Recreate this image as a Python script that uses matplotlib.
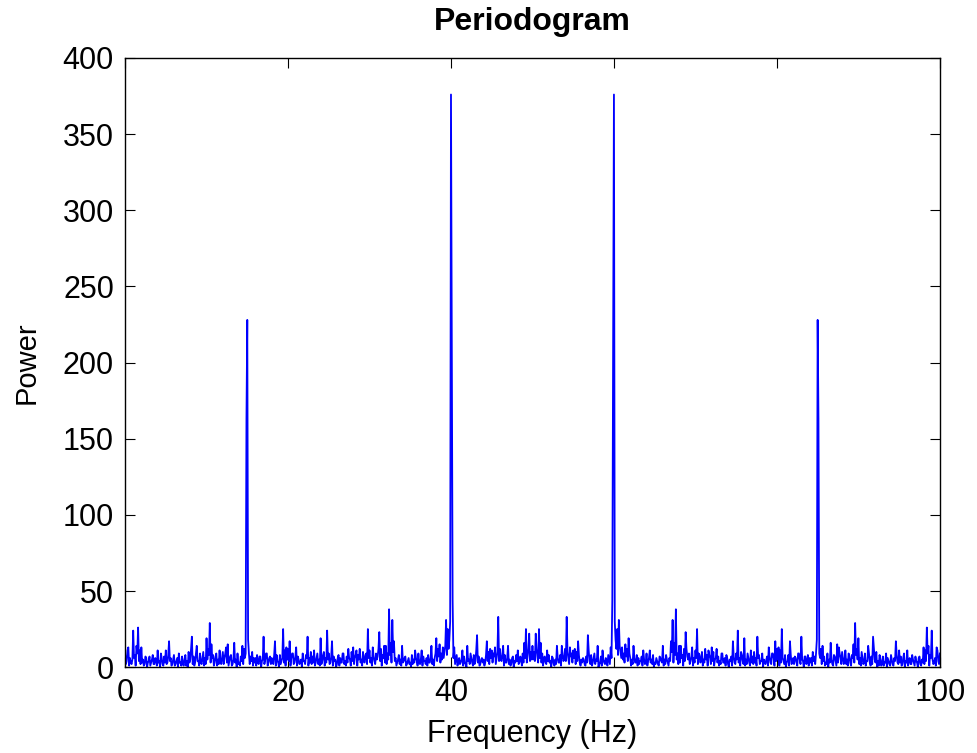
import numpy as np
import matplotlib
matplotlib.use("Agg")
import matplotlib.pyplot as plt

plt.rcParams['font.family'] = ['Liberation Sans', 'DejaVu Sans']

# one-sided spectrum 0..50 Hz, 0.1 Hz bins;
# the plotted 0..100 Hz periodogram is mirror-symmetric about 50 Hz
half_power = [
    9, 2, 4, 11, 13, 1, 6, 3, 2, 5,          # 0
    24, 6, 8, 1, 14, 9, 26, 4, 11, 2,        # 1
    13, 3, 5, 1, 2, 7, 6, 0, 3, 4,           # 2
    7, 1, 3, 5, 8, 2, 2, 6, 5, 1,            # 3
    11, 3, 4, 0, 9, 6, 2, 1, 7, 3,           # 4
    11, 2, 3, 8, 17, 4, 6, 1, 2, 5,          # 5
    8, 1, 2, 4, 6, 0, 9, 3, 3, 1,            # 6
    7, 2, 1, 5, 8, 1, 4, 0, 10, 3,           # 7
    5, 12, 20, 2, 7, 1, 3, 9, 14, 4,         # 8
    4, 1, 9, 3, 2, 6, 10, 1, 6, 2,           # 9
    19, 5, 12, 8, 29, 3, 15, 6, 8, 1,        # 10
    3, 7, 9, 1, 5, 2, 11, 4, 2, 6,           # 11
    10, 2, 6, 9, 13, 3, 15, 1, 4, 7,         # 12
    8, 1, 2, 5, 16, 3, 5, 0, 9, 2,           # 13
    3, 1, 7, 4, 14, 2, 12, 6, 9, 163,        # 14
    228, 18, 9, 2, 7, 4, 10, 1, 6, 3,        # 15
    6, 1, 8, 3, 2, 7, 7, 0, 4, 5,            # 16
    20, 2, 5, 9, 9, 1, 3, 6, 7, 2,           # 17
    6, 3, 2, 8, 17, 1, 8, 4, 3, 0,           # 18
    8, 2, 4, 6, 25, 3, 11, 1, 13, 5,         # 19
    12, 4, 17, 1, 6, 9, 9, 2, 3, 7,          # 20
    13, 1, 7, 5, 2, 3, 5, 0, 9, 4,           # 21
    4, 2, 8, 6, 20, 1, 6, 3, 10, 2,          # 22
    7, 3, 11, 1, 3, 6, 9, 2, 5, 1,           # 23
    19, 2, 4, 8, 10, 1, 6, 3, 24, 5,         # 24
    9, 2, 3, 7, 17, 1, 7, 4, 5, 0,           # 25
    2, 6, 8, 1, 6, 3, 3, 9, 9, 2,            # 26
    4, 1, 7, 3, 12, 6, 5, 1, 10, 4,          # 27
    13, 2, 6, 8, 11, 1, 8, 5, 12, 3,         # 28
    5, 1, 10, 4, 3, 8, 9, 2, 25, 6,          # 29
    11, 3, 6, 1, 13, 7, 4, 2, 9, 5,          # 30
    7, 12, 23, 4, 12, 1, 8, 6, 14, 3,        # 31
    14, 2, 9, 5, 38, 8, 16, 3, 31, 10,       # 32
    17, 4, 6, 1, 3, 5, 8, 2, 5, 1,           # 33
    14, 3, 4, 6, 7, 1, 2, 4, 6, 2,           # 34
    3, 0, 8, 2, 5, 3, 11, 6, 4, 1,           # 35
    9, 3, 2, 5, 11, 1, 7, 4, 4, 2,           # 36
    6, 1, 8, 3, 3, 6, 14, 2, 5, 1,           # 37
    6, 9, 19, 4, 12, 7, 15, 3, 9, 5,         # 38
    13, 6, 10, 14, 31, 8, 25, 12, 18, 30,    # 39
    376, 213, 44, 6, 13, 2, 5, 8, 1, 4,      # 40
    6, 2, 3, 5, 11, 1, 7, 3, 2, 0,           # 41
    14, 4, 5, 2, 9, 6, 3, 1, 8, 2,           # 42
    4, 11, 21, 3, 7, 1, 2, 5, 6, 3,          # 43
    5, 1, 3, 8, 17, 4, 10, 2, 12, 6,         # 44
    11, 3, 9, 7, 13, 2, 6, 10, 33, 4,        # 45
    12, 5, 4, 8, 14, 1, 8, 3, 3, 6,          # 46
    14, 2, 5, 1, 2, 6, 7, 0, 4, 3,           # 47
    8, 4, 11, 2, 3, 7, 6, 1, 9, 3,           # 48
    16, 6, 25, 3, 7, 12, 22, 4, 10, 5,       # 49
    14,                                      # 50
]
bin_width = 0.1  # Hz

half_freq = np.arange(len(half_power)) * bin_width
freq = np.concatenate([half_freq, 100 - half_freq[-2::-1]])
power = np.concatenate([half_power, half_power[-2::-1]])

fig = plt.figure(figsize=(9.77, 7.53), dpi=100)
ax = fig.add_axes([0.128, 0.114, 0.834, 0.809])

ax.plot(freq, power, color='blue', linewidth=1.3)

ax.set_xlim(0, 100)
ax.set_ylim(0, 400)
ax.set_xticks(range(0, 101, 20))
ax.set_yticks(range(0, 401, 50))
ax.tick_params(direction='in', top=True, right=True, length=7, labelsize=22, pad=8)
for s in ax.spines.values():
    s.set_linewidth(1)

ax.set_xlabel('Frequency (Hz)', fontsize=22, labelpad=8)
ax.set_ylabel('Power', fontsize=21, labelpad=16)
ax.set_title('Periodogram', fontsize=23, fontweight='bold', pad=20)

fig.savefig('out.png', dpi=100)
